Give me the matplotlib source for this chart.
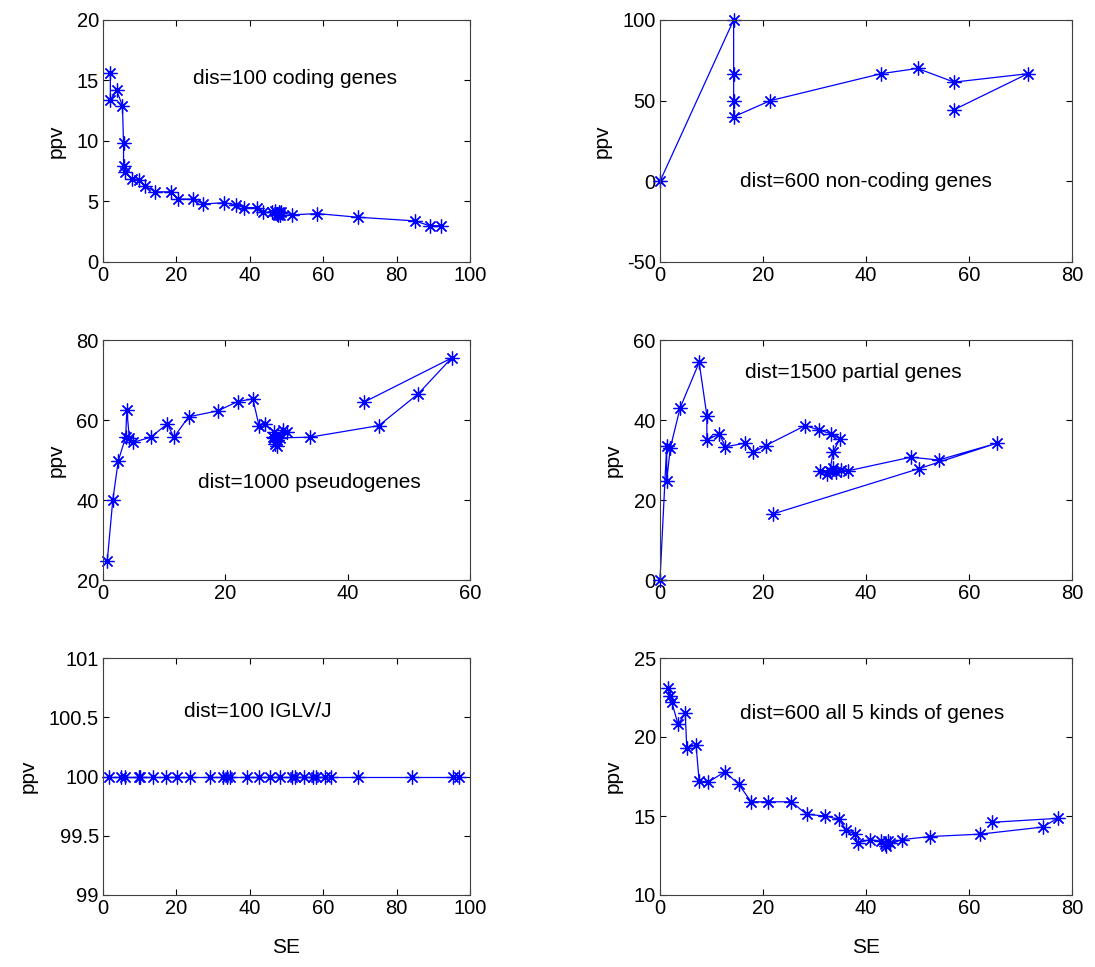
import numpy as np
import matplotlib
matplotlib.use("Agg")
import matplotlib.pyplot as plt

plt.rcParams["font.family"] = ["Liberation Sans", "DejaVu Sans"]
plt.rcParams["font.size"] = 14.5

# panel 1: dis=100 coding genes
se_coding = [2.0, 2.0, 3.7, 5.3, 5.6, 5.6, 6.1, 7.8, 9.8, 11.4, 14.3, 18.4, 20.4,
             24.5, 27.3, 33.1, 36.3, 38.4, 42.0, 43.7, 46.0, 47.0, 47.3, 47.8,
             48.0, 48.3, 48.5, 51.4, 58.4, 69.4, 84.9, 89.0, 92.0]
ppv_coding = [15.6, 13.4, 14.2, 12.9, 9.8, 7.9, 7.4, 6.9, 6.8, 6.3, 5.8, 5.8, 5.2,
              5.2, 4.8, 4.9, 4.7, 4.5, 4.5, 4.1, 4.1, 4.2, 4.0, 3.9,
              4.1, 3.9, 4.1, 3.9, 4.0, 3.7, 3.4, 3.0, 3.0]

# panel 2: dist=600 non-coding genes
se_noncoding = [0.0, 14.3, 14.3, 14.3, 14.3, 21.4, 42.9, 50.0, 57.1, 71.4, 57.1]
ppv_noncoding = [0.0, 100.0, 66.7, 50.0, 40.0, 50.0, 66.7, 70.0, 61.5, 66.7, 44.4]

# panel 3: dist=1000 pseudogenes
se_pseudo = [0.7, 1.6, 2.5, 3.7, 3.9, 4.3, 4.9, 7.8, 10.5, 11.6, 14.0, 18.8, 22.0,
             24.5, 25.5, 26.5, 28.0, 28.5, 28.2, 28.5, 27.8, 29.0, 29.5, 30.0, 28.0,
             33.8, 45.1, 51.5, 57.0, 42.6]
ppv_pseudo = [24.8, 40.0, 49.8, 55.7, 62.5, 55.5, 54.4, 55.7, 59.0, 55.7, 60.8, 62.3,
              64.6, 65.3, 58.6, 59.0, 57.0, 55.0, 54.0, 53.5, 55.8, 55.5, 57.5, 56.9,
              55.5, 55.7, 58.6, 66.5, 75.5, 64.4]

# panel 4: dist=1500 partial genes
se_partial = [0.0, 1.3, 1.3, 2.0, 3.9, 7.6, 9.1, 9.1, 11.5, 12.7, 16.5, 18.1, 20.5,
              28.2, 30.9, 33.3, 34.9, 33.6, 33.0, 31.0, 32.5, 34.2, 33.5, 35.2,
              36.5, 48.7, 54.1, 65.4, 50.2, 21.9]
ppv_partial = [0.0, 33.6, 24.8, 33.0, 43.0, 54.4, 41.1, 35.0, 36.5, 33.3, 34.2, 31.9,
               33.6, 38.6, 37.5, 36.5, 35.3, 31.9, 27.3, 27.3, 26.5, 26.9, 28.0, 27.6,
               27.3, 30.7, 30.0, 34.2, 27.8, 16.5]

# panel 5: dist=100 IGLV/J
se_iglv = [1.5, 4.9, 6.1, 9.8, 10.2, 13.7, 17.1, 20.2, 23.7, 29.2, 32.7, 33.9, 34.7,
           39.2, 42.4, 45.6, 48.3, 51.6, 52.2, 54.7, 57.1, 58.0, 60.4, 62.0, 69.6,
           84.1, 95.5, 97.0]
ppv_iglv = [100.0] * len(se_iglv)

# panel 6: dist=600 all 5 kinds of genes
se_all = [1.6, 2.0, 2.3, 3.5, 4.9, 5.2, 7.0, 7.6, 9.4, 12.6, 15.3, 17.7, 21.0, 25.5,
          28.5, 32.1, 34.7, 36.2, 37.8, 38.4, 40.7, 43.0, 43.6, 44.2, 44.6, 43.8,
          46.9, 52.4, 62.1, 74.3, 77.2, 64.4]
ppv_all = [23.1, 22.6, 22.2, 20.8, 21.5, 19.3, 19.5, 17.2, 17.15, 17.8, 17.0, 15.9,
           15.9, 15.9, 15.1, 15.0, 14.8, 14.1, 13.85, 13.3, 13.5, 13.4, 13.2, 13.4,
           13.3, 13.1, 13.5, 13.7, 13.85, 14.3, 14.85, 14.6]

W, H = 1095, 967
fig = plt.figure(figsize=(W / 100, H / 100), dpi=100)

cols = [(103, 470), (660, 1072)]
rows = [(20, 262), (340, 580), (658, 895)]


def make_ax(r, c):
    x0, x1 = cols[c]
    y0, y1 = rows[r]
    return fig.add_axes([x0 / W, 1 - y1 / H, (x1 - x0) / W, (y1 - y0) / H])


panels = [
    (0, 0, se_coding, ppv_coding, (0, 100), np.arange(0, 101, 20), (0, 20), np.arange(0, 21, 5),
     "dis=100 coding genes", (24.5, 15.2)),
    (0, 1, se_noncoding, ppv_noncoding, (0, 80), np.arange(0, 81, 20), (-50, 100), np.arange(-50, 101, 50),
     "dist=600 non-coding genes", (15.5, 0)),
    (1, 0, se_pseudo, ppv_pseudo, (0, 60), np.arange(0, 61, 20), (20, 80), np.arange(20, 81, 20),
     "dist=1000 pseudogenes", (15.5, 44.5)),
    (1, 1, se_partial, ppv_partial, (0, 80), np.arange(0, 81, 20), (0, 60), np.arange(0, 61, 20),
     "dist=1500 partial genes", (16.5, 52)),
    (2, 0, se_iglv, ppv_iglv, (0, 100), np.arange(0, 101, 20), (99, 101), [99, 99.5, 100, 100.5, 101],
     "dist=100 IGLV/J", (22, 100.55)),
    (2, 1, se_all, ppv_all, (0, 80), np.arange(0, 81, 20), (10, 25), np.arange(10, 26, 5),
     "dist=600 all 5 kinds of genes", (15.5, 21.5)),
]

asterisk = (8, 2, 0)
for r, c, xs, ys, xl, xt, yl, yt, label, pos in panels:
    ax = make_ax(r, c)
    ax.plot(xs, ys, "-", color="#0000ff", lw=0.9, marker=asterisk, ms=10, mew=0.9,
            clip_on=False)
    ax.set_xlim(*xl)
    ax.set_ylim(*yl)
    ax.set_xticks(xt)
    ax.set_yticks(yt)
    ax.set_yticklabels([f"{v:g}" for v in yt])
    ax.tick_params(direction="in", top=True, right=True, length=4, width=0.8, pad=3)
    for s in ax.spines.values():
        s.set_linewidth(0.8)
        s.set_color("#404040")
    ax.set_ylabel("ppv", labelpad=8, fontsize=15)
    if r == 2:
        ax.set_xlabel("SE", labelpad=14, fontsize=15)
    ax.text(pos[0], pos[1], label, ha="left", va="center", fontsize=15)

fig.savefig("out.png", dpi=100)
